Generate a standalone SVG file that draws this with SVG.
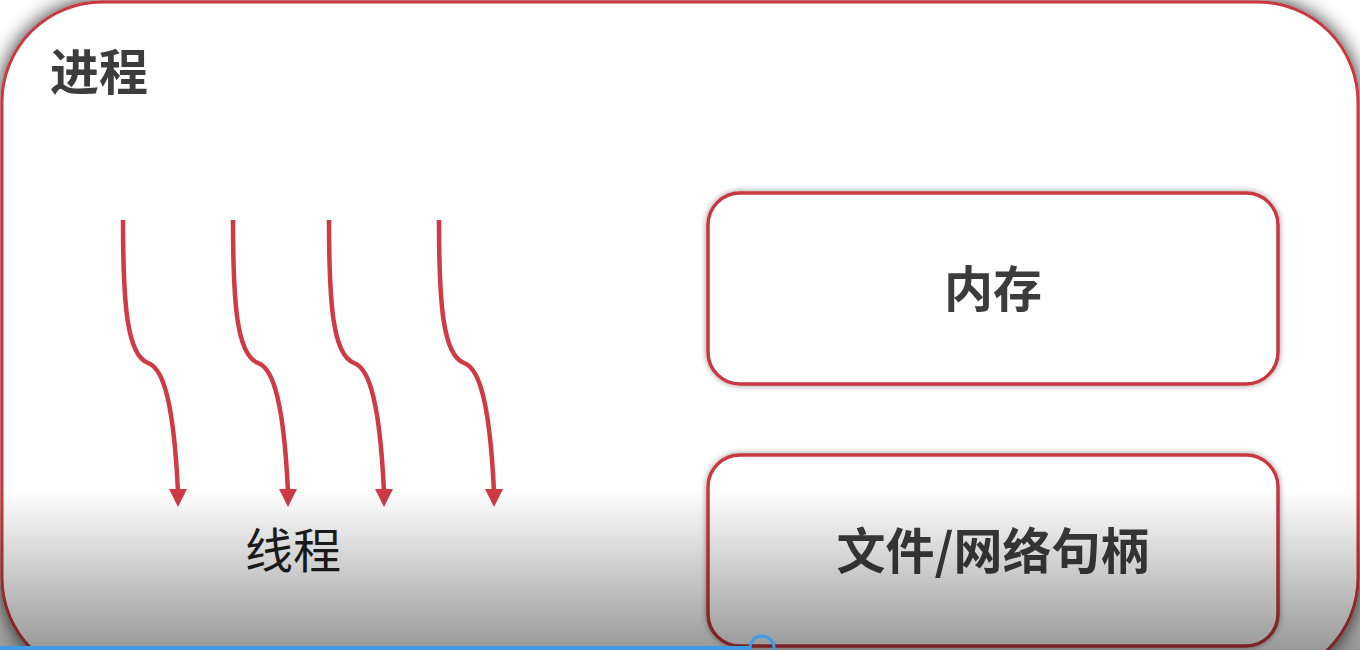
<svg xmlns="http://www.w3.org/2000/svg" width="1360" height="650" viewBox="0 0 1360 650">
<style>
.frame{fill:#fff;stroke:#c9373f;stroke-width:3}
.box{fill:#fff;stroke:#c9373f;stroke-width:3.5}
.title{font-family:"Noto Sans CJK SC","Noto Sans",sans-serif;font-weight:bold;font-size:49px;fill:#3c3c3c}
.label{font-family:"Noto Sans CJK SC","Noto Sans",sans-serif;font-size:48px;fill:#1e1e1e}
.thread{fill:none;stroke:#d03a42;stroke-width:4.5}
.head{fill:#d03a42}
</style>
<defs>
<filter id="sh" x="-10%" y="-10%" width="120%" height="120%">
<feGaussianBlur in="SourceAlpha" stdDeviation="10"/>
<feComponentTransfer><feFuncA type="linear" slope="0.85"/></feComponentTransfer>
<feMerge><feMergeNode/><feMergeNode in="SourceGraphic"/></feMerge>
</filter>
<filter id="sh2" x="-10%" y="-20%" width="120%" height="140%">
<feGaussianBlur in="SourceAlpha" stdDeviation="3"/>
<feComponentTransfer><feFuncA type="linear" slope="0.4"/></feComponentTransfer>
<feMerge><feMergeNode/><feMergeNode in="SourceGraphic"/></feMerge>
</filter>
<linearGradient id="fade" x1="0" y1="490" x2="0" y2="650" gradientUnits="userSpaceOnUse">
<stop offset="0" stop-color="#000" stop-opacity="0"/>
<stop offset="1" stop-color="#000" stop-opacity="0.4"/>
</linearGradient>
<g id="arrow">
<path class="thread" d="M123,220 C123,305 127,355 148,363 C159,367 173,385 178,492"/>
<polygon class="head" points="169,489 187,489 178,507"/>
</g>
</defs>
<rect width="1360" height="650" fill="#fff"/>
<g id="process">
<rect class="frame" x="2" y="2" width="1356" height="676" rx="100" filter="url(#sh)"/>
<text class="title" x="50" y="90">进程</text>
</g>
<g id="connectors">
<use href="#arrow"/>
<use href="#arrow" transform="translate(110,0)"/>
<use href="#arrow" transform="translate(206,0)"/>
<use href="#arrow" transform="translate(316,0)"/>
</g>
<g id="threads">
<text class="label" x="293" y="568" text-anchor="middle">线程</text>
</g>
<g id="memory">
<rect class="box" x="708" y="193" width="570" height="191" rx="32" filter="url(#sh2)"/>
<text class="title" x="993" y="307" text-anchor="middle">内存</text>
</g>
<g id="handles">
<rect class="box" x="708" y="455" width="570" height="191" rx="32" filter="url(#sh2)"/>
<text class="title" x="993" y="569" text-anchor="middle">文件/网络句柄</text>
</g>
<rect x="0" y="490" width="1360" height="160" fill="url(#fade)"/>
<g id="progress">
<rect x="0" y="646" width="750" height="4" fill="#3d9be9"/>
<circle cx="762" cy="648" r="12" fill="none" stroke="#3d9be9" stroke-width="3"/>
</g>
</svg>
